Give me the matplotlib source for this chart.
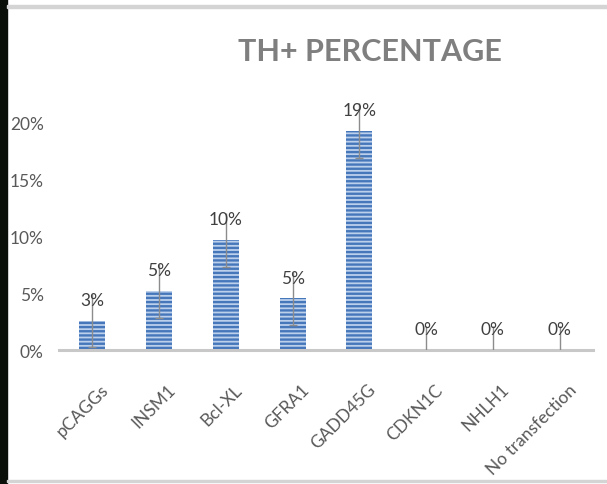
import matplotlib
matplotlib.use("Agg")
import numpy as np
from matplotlib import pyplot as plt
from matplotlib.patches import Rectangle
from matplotlib.transforms import ScaledTranslation

# Data
categories = ["pCAGGs", "INSM1", "Bcl-XL", "GFRA1", "GADD45G",
              "CDKN1C", "NHLH1", "No transfection"]
values = [0.026, 0.052, 0.097, 0.0455, 0.193, 0.0, 0.0, 0.0]
errors = [0.023, 0.0235, 0.0235, 0.0235, 0.024, 0.021, 0.021, 0.021]
yticks = [0.0, 0.05, 0.10, 0.15, 0.20]
ytick_labels = ["0%", "5%", "10%", "15%", "20%"]

plt.rcParams['font.family'] = ['Lato', 'DejaVu Sans']
plt.rcParams['hatch.linewidth'] = 1.7

fig = plt.figure(figsize=(6.07, 4.85), dpi=100)
ax = fig.add_axes([0.097, 0.276, 0.88, 0.516])

x = np.arange(len(categories))
bars = ax.bar(x, values, width=0.39, color='#bcd0ec', edgecolor='#4677bb',
              linewidth=0, hatch='----', zorder=2)

# error bars, only lower caps show in the reference
eb = ax.errorbar(x, values, yerr=errors, fmt='none', ecolor='#8c8c8c',
                 elinewidth=1, capsize=3, capthick=1, zorder=3)
eb[1][1].set_visible(False)

for xi, v in zip(x, values):
    ax.annotate("{:.0%}".format(v), (xi, v), xytext=(0, 15),
                textcoords='offset points', ha='center', va='center',
                fontsize=12.5, color='#404040', zorder=4)

ax.set_xlim(-0.5, len(categories) - 0.5)
ax.set_ylim(0, 0.22)
ax.set_yticks(yticks)
ax.set_yticklabels(ytick_labels, fontsize=12.5, color='#595959')
ax.set_xticks(x)
ax.set_xticklabels(categories, rotation=45, ha='right', va='top',
                   rotation_mode='anchor', fontsize=12.5, color='#595959')
ax.tick_params(axis='both', length=0)
ax.tick_params(axis='y', pad=11)
ax.tick_params(axis='x', pad=22)
# nudge rotated labels right, the way the original sits
shift = ScaledTranslation(6 / 72, 0, fig.dpi_scale_trans)
for lbl in ax.get_xticklabels():
    lbl.set_transform(lbl.get_transform() + shift)

for side in ['top', 'right', 'left']:
    ax.spines[side].set_visible(False)
ax.spines['bottom'].set_color('#c8c8c8')
ax.spines['bottom'].set_linewidth(2.2)

fig.text(0.609, 0.893, "TH+ PERCENTAGE", ha='center', va='center',
         fontsize=22, fontweight='bold', color='#7f7f7f')

# screenshot frame: dark strip on the left, grey rules top and bottom
fig.patches.append(Rectangle((0, 0), 0.012, 1, transform=fig.transFigure,
                             color='#0a0f0a', zorder=0))
fig.patches.append(Rectangle((0.012, 0.982), 0.988, 0.005,
                             transform=fig.transFigure, color='#d4d4d4'))
fig.patches.append(Rectangle((0.012, 0.004), 0.988, 0.005,
                             transform=fig.transFigure, color='#d4d4d4'))

fig.savefig("out.png", dpi=100)
